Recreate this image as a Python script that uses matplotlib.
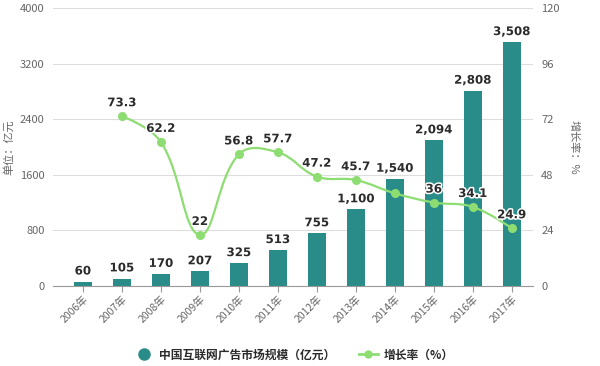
import matplotlib
matplotlib.use("Agg")
import matplotlib.pyplot as plt
from matplotlib.lines import Line2D
from matplotlib.path import Path
from matplotlib.patches import PathPatch
import matplotlib.patheffects as pe
import numpy as np

plt.rcParams['font.family'] = ['Noto Sans CJK SC', 'DejaVu Sans']

years = ["2006年", "2007年", "2008年", "2009年", "2010年", "2011年", "2012年",
         "2013年", "2014年", "2015年", "2016年", "2017年"]
market = [60, 105, 170, 207, 325, 513, 755, 1100, 1540, 2094, 2808, 3508]
growth_years_idx = [1, 2, 3, 4, 5, 6, 7, 8, 9, 10, 11]
growth = [73.3, 62.2, 22, 56.8, 57.7, 47.2, 45.7, 40, 36, 34.1, 24.9]
growth_labels = ["73.3", "62.2", "22", "56.8", "57.7", "47.2", "45.7", "", "36", "34.1", "24.9"]
left_ticks = [0, 800, 1600, 2400, 3200, 4000]
right_ticks = [0, 24, 48, 72, 96, 120]

bar_color = "#2a8c89"
line_color = "#8ddd72"
tick_color = "#666666"
label_color = "#2b2b2b"
halo = [pe.withStroke(linewidth=2.2, foreground="white")]

fig = plt.figure(figsize=(6, 3.66), dpi=100)
ax = fig.add_axes([0.088, 0.219, 0.8, 0.759])
ax2 = ax.twinx()

x = np.arange(len(years))
ax.bar(x, market, width=0.46, color=bar_color, zorder=2)
ax.set_xlim(-0.77, 11.54)
ax.set_ylim(0, 4000)
ax.set_yticks(left_ticks)
ax.set_yticklabels([str(t) for t in left_ticks])
ax.set_xticks(x)
ax.set_xticklabels(years, rotation=45, ha="right", rotation_mode="anchor")
ax.grid(axis="y", color="#dddddd", linewidth=0.8, zorder=0)
ax.set_axisbelow(True)
for s in ["top", "right", "left"]:
    ax.spines[s].set_visible(False)
ax.spines["bottom"].set_color("#999999")
ax.tick_params(axis="y", length=0, labelsize=8, colors=tick_color, pad=6)
ax.tick_params(axis="x", length=4, color="#999999", labelsize=7.5, colors=tick_color, pad=2)
ax.set_ylabel("单位：亿元", fontsize=8, color=tick_color, labelpad=4)

for xi, v in zip(x, market):
    ax.annotate(f"{v:,}", (xi, v), xytext=(0, 3), textcoords="offset points",
                ha="center", va="bottom", fontsize=8.5, fontfamily="DejaVu Sans",
                fontweight="semibold", color=label_color, path_effects=halo, zorder=5)

ax2.set_ylim(0, 120)
ax2.set_yticks(right_ticks)
ax2.set_yticklabels([str(t) for t in right_ticks])
for s in ["top", "right", "left", "bottom"]:
    ax2.spines[s].set_visible(False)
ax2.tick_params(axis="y", length=0, labelsize=8, colors=tick_color, pad=6)
ax2.set_ylabel("增长率：%", fontsize=8, color=tick_color, rotation=270, labelpad=14)

# smooth line (echarts-like bezier) computed in display space
fig.canvas.draw()
gx = np.array(growth_years_idx, dtype=float)
gy = np.array(growth, dtype=float)
pts = ax2.transData.transform(np.column_stack([gx, gy]))
n = len(pts)
smooth = 0.4
cp_in = pts.copy()
cp_out = pts.copy()
for i in range(1, n - 1):
    v = pts[i + 1] - pts[i - 1]
    d0 = np.linalg.norm(pts[i] - pts[i - 1])
    d1 = np.linalg.norm(pts[i + 1] - pts[i])
    tot = d0 + d1
    cp_in[i] = pts[i] - v * smooth * d0 / tot
    cp_out[i] = pts[i] + v * smooth * d1 / tot
verts = [pts[0]]
codes = [Path.MOVETO]
for i in range(n - 1):
    verts += [cp_out[i], cp_in[i + 1], pts[i + 1]]
    codes += [Path.CURVE4] * 3
inv = ax2.transData.inverted()
verts_data = inv.transform(np.array(verts))
patch = PathPatch(Path(verts_data, codes), facecolor="none", edgecolor=line_color,
                  linewidth=1.6, zorder=3, transform=ax2.transData)
ax2.add_patch(patch)
ax2.plot(gx, gy, linestyle="none", marker="o", markersize=5.5, color=line_color, zorder=4)
for xi, v, lab in zip(gx, gy, growth_labels):
    if lab:
        ax2.annotate(lab, (xi, v), xytext=(0, 5), textcoords="offset points",
                     ha="center", va="bottom", fontsize=8.5, fontfamily="DejaVu Sans",
                     fontweight="semibold", color=label_color, path_effects=halo, zorder=5)

handles = [
    Line2D([], [], linestyle="none", marker="o", markersize=8, color=bar_color),
    Line2D([], [], color=line_color, linewidth=2, marker="o", markersize=5),
]
fig.legend(handles, ["中国互联网广告市场规模（亿元）", "增长率（%）"], loc="center",
           bbox_to_anchor=(0.49, 0.03), ncol=2, frameon=False,
           prop={"size": 8.5, "weight": "bold"}, labelcolor=label_color,
           handlelength=1.6, columnspacing=2.0, handletextpad=0.5)

fig.savefig("out.png", dpi=100)
